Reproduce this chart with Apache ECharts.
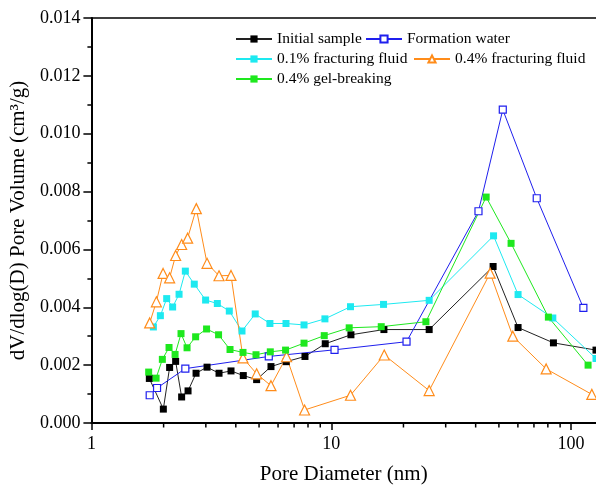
<!DOCTYPE html>
<html>
<head>
<meta charset="utf-8">
<script src="https://cdn.jsdelivr.net/npm/echarts@6/dist/echarts.min.js"></script>
<style>
html,body{margin:0;padding:0;background:#fff;}
#chart{width:596px;height:490px;}
</style>
</head>
<body>
<div id="chart"></div>
<script>
// ---- data ----
const seriesNames = ['Initial sample', 'Formation water', '0.1% fracturing fluid', '0.4% fracturing fluid', '0.4% gel-breaking'];

const initialX = [1.744, 1.995, 2.119, 2.245, 2.378, 2.529, 2.731, 3.035, 3.405, 3.82, 4.298, 4.885, 5.607, 6.494, 7.77, 9.44, 12.08, 16.58, 25.6, 47.3, 60.1, 84.4, 127];
const initialY = [0.00154, 0.00048, 0.00192, 0.00213, 0.00090, 0.00111, 0.00172, 0.00193, 0.00172, 0.00180, 0.00164, 0.00150, 0.00195, 0.00212, 0.00230, 0.00274, 0.00305, 0.00323, 0.00323, 0.00541, 0.00330, 0.00277, 0.00252];

const formationX = [1.75, 1.878, 2.464, 5.49, 10.32, 20.6, 41.1, 51.9, 71.9, 112.5];
const formationY = [0.00096, 0.00121, 0.00188, 0.00230, 0.00253, 0.00281, 0.00732, 0.01083, 0.00777, 0.00398];

const frac01X = [1.813, 1.939, 2.06, 2.181, 2.32, 2.464, 2.685, 2.993, 3.35, 3.758, 4.245, 4.82, 5.55, 6.476, 7.7, 9.41, 12.03, 16.52, 25.6, 47.5, 60.1, 83.9, 127];
const frac01Y = [0.00332, 0.00371, 0.00430, 0.00401, 0.00445, 0.00525, 0.00480, 0.00425, 0.00413, 0.00387, 0.00318, 0.00377, 0.00344, 0.00344, 0.00339, 0.00360, 0.00402, 0.00410, 0.00424, 0.00647, 0.00444, 0.00363, 0.00223];

const frac04X = [1.75, 1.866, 1.99, 2.119, 2.245, 2.378, 2.519, 2.738, 3.035, 3.405, 3.82, 4.286, 4.885, 5.607, 6.51, 7.74, 12.03, 16.63, 25.6, 45.97, 57.15, 78.7, 122];
const frac04Y = [0.00346, 0.00419, 0.00517, 0.00502, 0.00579, 0.00617, 0.00639, 0.00741, 0.00552, 0.00509, 0.00510, 0.00225, 0.00170, 0.00129, 0.00229, 0.00045, 0.00096, 0.00235, 0.00112, 0.00518, 0.00300, 0.00187, 0.00099];

const gelX = [1.733, 1.861, 1.976, 2.107, 2.233, 2.364, 2.505, 2.72, 3.021, 3.39, 3.784, 4.286, 4.856, 5.57, 6.45, 7.7, 9.35, 11.88, 16.16, 24.81, 44.25, 56.2, 80.4, 117.7];
const gelY = [0.00176, 0.00155, 0.00220, 0.00261, 0.00237, 0.00309, 0.00260, 0.00298, 0.00325, 0.00305, 0.00254, 0.00244, 0.00236, 0.00246, 0.00252, 0.00276, 0.00302, 0.00329, 0.00333, 0.00350, 0.00781, 0.00621, 0.00366, 0.00200];

const xMinorTicks = [2, 3, 4, 5, 6, 7, 8, 9, 20, 30, 40, 50, 60, 70, 80, 90];
const xMajorLabels = [1, 10, 100];
const yTickMin = 0, yTickMax = 0.014, yTickStep = 0.002;

// ---- chart ----
const FONT = "'Liberation Serif', 'Times New Roman', serif";
const zip = (xs, ys) => xs.map((x, i) => [x, ys[i]]);

const colors = {
  initial: '#000000',
  formation: '#1f1fee',
  frac01: '#1de9f0',
  frac04: '#ff8c1a',
  gel: '#1ee81e'
};

function lineSeries(name, data, color, lineColor, symbol, filled, size) {
  return {
    name: name,
    type: 'line',
    data: data,
    symbol: symbol,
    symbolSize: size,
    showSymbol: true,
    lineStyle: { color: lineColor, width: 1 },
    itemStyle: filled
      ? { color: color, borderColor: color, borderWidth: 0 }
      : { color: '#ffffff', borderColor: color, borderWidth: 1.2 },
    emphasis: { disabled: true },
    animation: false,
    z: 3
  };
}

function legendAt(name, left, top) {
  return {
    data: [name],
    left: left,
    top: top,
    padding: 0,
    itemWidth: 36,
    itemHeight: 9,
    itemGap: 0,
    textStyle: { fontFamily: FONT, fontSize: 15.5, color: '#000' },
    selectedMode: false
  };
}

const chart = echarts.init(document.getElementById('chart'), null, { renderer: 'canvas' });

const option = {
  backgroundColor: '#ffffff',
  animation: false,
  grid: { left: 91, right: 0, top: 18, bottom: 63, containLabel: false },
  legend: [
    legendAt(seriesNames[0], 235, 31),
    legendAt(seriesNames[1], 365, 31),
    legendAt(seriesNames[2], 235, 51),
    legendAt(seriesNames[3], 413, 51),
    legendAt(seriesNames[4], 235, 71)
  ],
  xAxis: [
    {
      type: 'log',
      logBase: 10,
      min: 1,
      max: 127,
      name: 'Pore Diameter (nm)',
      nameLocation: 'middle',
      nameGap: 41,
      nameTextStyle: { fontFamily: FONT, fontSize: 21, color: '#000' },
      axisLine: { show: true, onZero: false, lineStyle: { color: '#000', width: 2 } },
      axisTick: { show: true, inside: false, length: 7, lineStyle: { color: '#000', width: 1.5 } },
      axisLabel: {
        fontFamily: FONT, fontSize: 18, color: '#000', margin: 12,
        showMaxLabel: false,
        formatter: function (v) {
          for (const m of xMajorLabels) { if (Math.abs(v - m) < 1e-6 * m) return String(m); }
          return '';
        }
      },
      splitLine: { show: false },
      minorTick: { show: false },
      minorSplitLine: { show: false }
    },
    {
      type: 'value',
      position: 'top',
      min: 0, max: 1,
      axisLine: { show: true, onZero: false, lineStyle: { color: '#000', width: 1.5 } },
      axisTick: { show: false },
      axisLabel: { show: false },
      splitLine: { show: false }
    }
  ],
  yAxis: {
    type: 'value',
    min: yTickMin,
    max: yTickMax,
    interval: yTickStep,
    name: 'dV/dlog(D) Pore Volume (cm³/g)',
    nameLocation: 'middle',
    nameGap: 52,
    nameTextStyle: { fontFamily: FONT, fontSize: 21, color: '#000' },
    axisLine: { show: true, onZero: false, lineStyle: { color: '#000', width: 2 } },
    axisTick: { show: true, inside: false, length: 8, lineStyle: { color: '#000', width: 1.5 } },
    minorTick: { show: true, splitNumber: 2, length: 4, lineStyle: { color: '#000', width: 1.5 } },
    axisLabel: {
      fontFamily: FONT, fontSize: 18, color: '#000', margin: 11,
      formatter: function (v) { return v.toFixed(3); }
    },
    splitLine: { show: false }
  },
  series: [
    lineSeries(seriesNames[0], zip(initialX, initialY), colors.initial, '#222222', 'rect', true, 7),
    lineSeries(seriesNames[1], zip(formationX, formationY), colors.formation, colors.formation, 'rect', false, 7),
    lineSeries(seriesNames[2], zip(frac01X, frac01Y), colors.frac01, colors.frac01, 'rect', true, 7),
    lineSeries(seriesNames[3], zip(frac04X, frac04Y), colors.frac04, colors.frac04, 'triangle', false, 10),
    lineSeries(seriesNames[4], zip(gelX, gelY), colors.gel, colors.gel, 'rect', true, 7),
    {
      name: 'minorTicksX',
      type: 'custom',
      silent: true,
      clip: false,
      z: 5,
      data: xMinorTicks.map(v => [v, 0]),
      renderItem: function (params, api) {
        const p = api.coord([api.value(0), 0]);
        return {
          type: 'line',
          shape: { x1: p[0], y1: p[1], x2: p[0], y2: p[1] + 4.5 },
          style: { stroke: '#000', lineWidth: 1.5 }
        };
      }
    }
  ]
};

chart.setOption(option);
</script>
</body>
</html>
